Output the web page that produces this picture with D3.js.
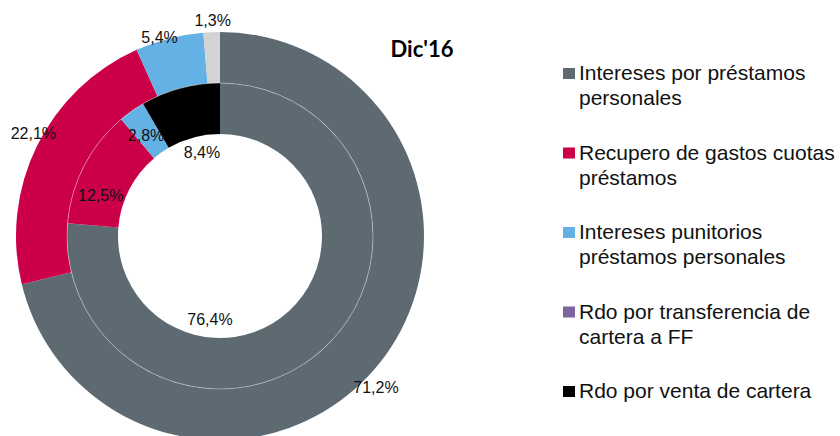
<!DOCTYPE html>
<html>
<head>
<meta charset="utf-8">
<script src="https://cdn.jsdelivr.net/npm/d3@7"></script>
<style>
  body { margin: 0; background: #fff; }
  svg { display: block; }
</style>
</head>
<body>
<div id="chart"></div>
<script>
// data
const categories = [
    "Intereses por préstamos personales",
    "Recupero de gastos cuotas préstamos",
    "Intereses punitorios préstamos personales",
    "Rdo por transferencia de cartera a FF",
    "Rdo por venta de cartera"
];
const outerValues = [71.2, 22.1, 5.4, 0, 1.3];
const innerValues = [76.4, 12.5, 2.8, 0, 8.4];
const title = "Dic'16";

const width = 840;
const height = 436;
const colors = ["#5E6A72", "#CC0048", "#63B1E5", "#8064A2", "#000000"];
// the last outer slice is drawn in light grey in the original
const outerColors = ["#5E6A72", "#CC0048", "#63B1E5", "#8064A2", "#D3D3D3"];

const cx = 220, cy = 236;
const rHole = 102, rMid = 153, rOuter = 204;

const locale = d3.formatLocale({ decimal: ",", thousands: ".", grouping: [3], currency: ["$", ""] });
const fmt = v => locale.format(".1f")(v) + "%";

const svg = d3.select("#chart")
    .append("svg")
    .attr("width", width)
    .attr("height", height);

const g = svg.append("g")
    .attr("transform", `translate(${cx}, ${cy})`);

const pie = d3.pie().sort(null).value(d => d);

const outerArc = d3.arc().innerRadius(rMid).outerRadius(rOuter);
const innerArc = d3.arc().innerRadius(rHole).outerRadius(rMid);

const outerSlices = pie(outerValues).map((d, i) => ({ ...d, i }));
const innerSlices = pie(innerValues).map((d, i) => ({ ...d, i }));

g.selectAll(".outer")
    .data(outerSlices.filter(d => d.value > 0))
    .join("path")
    .attr("class", "outer")
    .attr("d", outerArc)
    .attr("fill", d => outerColors[d.i]);

g.selectAll(".inner")
    .data(innerSlices.filter(d => d.value > 0))
    .join("path")
    .attr("class", "inner")
    .attr("d", innerArc)
    .attr("fill", d => colors[d.i]);

// thin separator between the rings
g.append("circle")
    .attr("r", rMid)
    .attr("fill", "none")
    .attr("stroke", "#fff")
    .attr("stroke-width", 0.7)
    .attr("stroke-opacity", 0.5);

/*********************************************/
/*              labels                       */
/*********************************************/
const polar = (angle, r) => [r * Math.sin(angle), -r * Math.cos(angle)];
const deg = Math.PI / 180;

// labels were hand placed in the original: angle shift (deg) + radius
const outerNudge = [
    { shift: 5.9, r: 217 },
    { shift: 2.7, r: 213 },
    { shift: -2.5, r: 208 },
    { shift: 0, r: 0 },
    { shift: 0.4, r: 216 }
];
const innerNudge = [
    { shift: 49.5, r: 84 },
    { shift: -8.5, r: 126 },
    { shift: -1, r: 125 },
    { shift: 0, r: 0 },
    { shift: 3, r: 86 }
];

const addLabels = (slices, nudge, cls) => {
    g.selectAll("." + cls)
        .data(slices.filter(d => d.value > 0))
        .join("text")
        .attr("class", cls)
        .attr("transform", d => {
            const a = (d.startAngle + d.endAngle) / 2 + nudge[d.i].shift * deg;
            const [x, y] = polar(a, nudge[d.i].r);
            return `translate(${x}, ${y})`;
        })
        .attr("text-anchor", "middle")
        .attr("dy", "0.36em")
        .style("font-family", "Liberation Sans, Arial, sans-serif")
        .style("font-size", "16px")
        .attr("fill", "#111")
        .text(d => fmt(d.value));
};
addLabels(outerSlices, outerNudge, "outer-label");
addLabels(innerSlices, innerNudge, "inner-label");

// title
svg.append("text")
    .attr("x", 422)
    .attr("y", 57)
    .attr("text-anchor", "middle")
    .style("font-family", "Lato, 'Open Sans', sans-serif")
    .style("font-weight", "bold")
    .style("font-size", "22px")
    .attr("fill", "#000")
    .text(title);

/*********************************************/
/*              legend                       */
/*********************************************/
const legendLines = [
    ["Intereses por préstamos", "personales"],
    ["Recupero de gastos cuotas", "préstamos"],
    ["Intereses punitorios", "préstamos personales"],
    ["Rdo por transferencia de", "cartera a FF"],
    ["Rdo por venta de cartera"]
];

const legendY = d3.scalePoint()
    .domain(d3.range(categories.length))
    .range([80, 398]);

const legend = svg.append("g")
    .selectAll("g")
    .data(categories)
    .join("g")
    .attr("transform", (d, i) => `translate(563, ${legendY(i)})`);

legend.append("rect")
    .attr("x", 0)
    .attr("y", -12)
    .attr("width", 12)
    .attr("height", 11)
    .attr("fill", (d, i) => colors[i]);

legend.append("text")
    .attr("x", 16)
    .attr("y", 0)
    .style("font-family", "Liberation Sans, Arial, sans-serif")
    .style("font-size", "21px")
    .attr("fill", "#111")
    .selectAll("tspan")
    .data((d, i) => legendLines[i])
    .join("tspan")
    .attr("x", 16)
    .attr("dy", (d, j) => j === 0 ? 0 : 25)
    .text(d => d);
</script>
</body>
</html>
